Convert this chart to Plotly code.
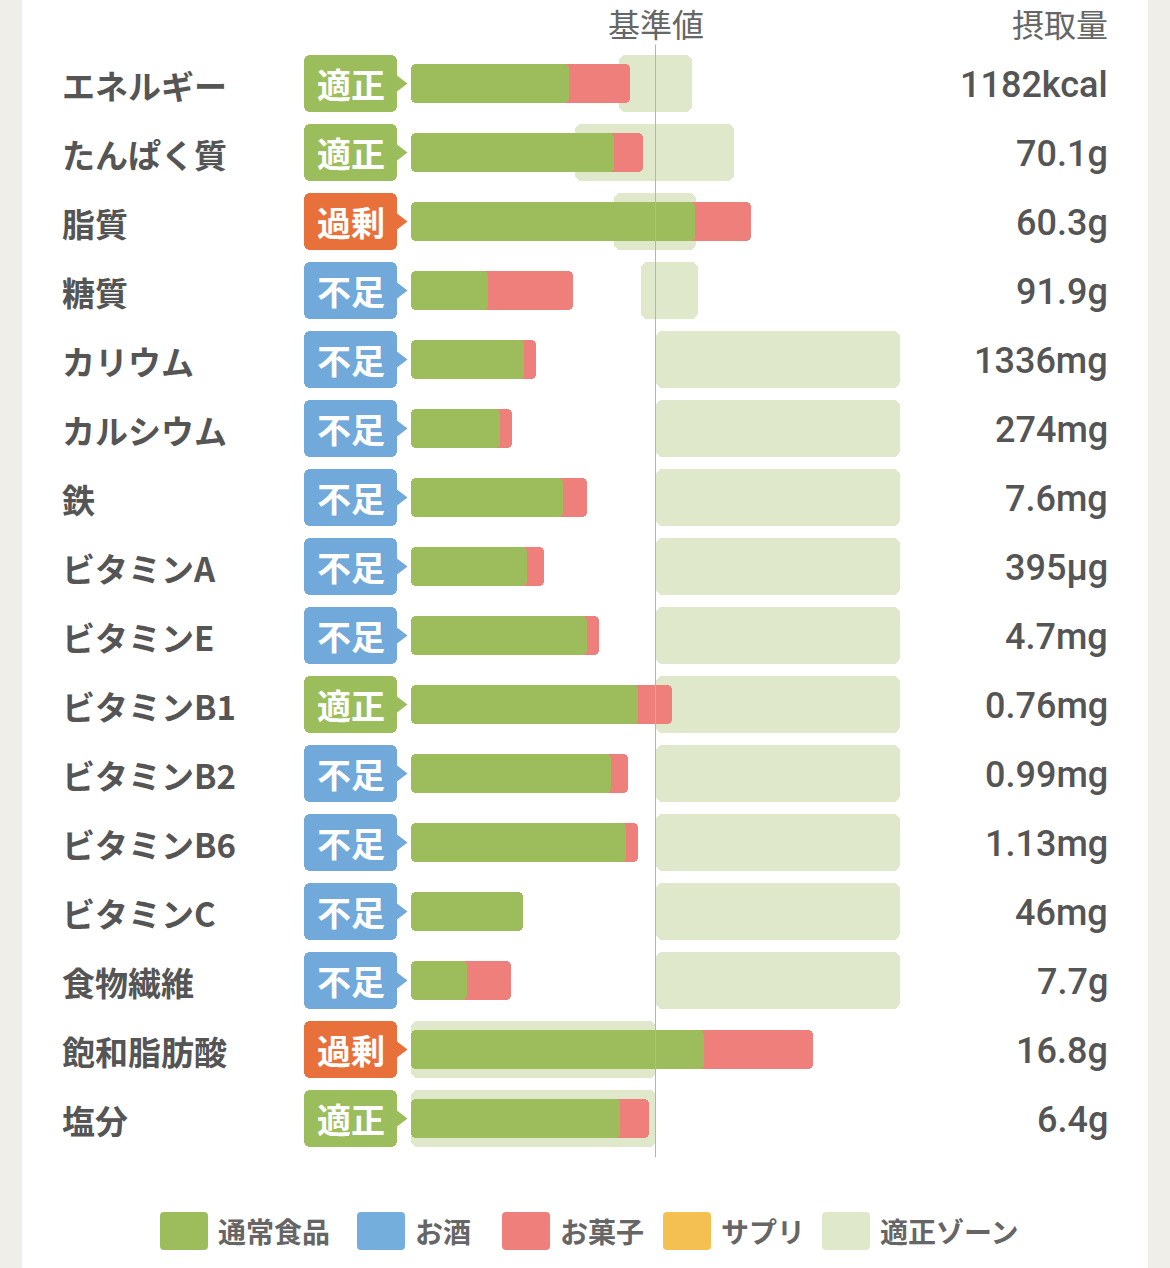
import plotly.graph_objects as go

# nutrient rows, top to bottom
nutrients = ["エネルギー", "たんぱく質", "脂質", "糖質", "カリウム", "カルシウム", "鉄",
             "ビタミンA", "ビタミンE", "ビタミンB1", "ビタミンB2", "ビタミンB6",
             "ビタミンC", "食物繊維", "飽和脂肪酸", "塩分"]
status = ["適正", "適正", "過剰", "不足", "不足", "不足", "不足",
          "不足", "不足", "適正", "不足", "不足",
          "不足", "不足", "過剰", "適正"]
intake = ["1182kcal", "70.1g", "60.3g", "91.9g", "1336mg", "274mg", "7.6mg",
          "395μg", "4.7mg", "0.76mg", "0.99mg", "1.13mg",
          "46mg", "7.7g", "16.8g", "6.4g"]

# intake by source, % of the reference value (基準値 = 100)
food = [64.5, 83.2, 116.1, 31.5, 46.1, 36.6, 62.2,
        47.5, 71.9, 92.9, 81.7, 87.9,
        45.8, 23.0, 119.9, 85.6]
alcohol = [0, 0, 0, 0, 0, 0, 0, 0, 0, 0, 0, 0, 0, 0, 0, 0]
snack = [25.1, 11.8, 22.8, 34.9, 5.1, 4.9, 9.8,
         6.8, 5.0, 13.8, 7.1, 5.0,
         0.0, 17.9, 44.5, 11.8]
supplement = [0, 0, 0, 0, 0, 0, 0, 0, 0, 0, 0, 0, 0, 0, 0, 0]

# appropriate zone (適正ゾーン), % of reference
zone_lo = [85, 67, 83, 94, 100, 100, 100, 100, 100, 100, 100, 100, 100, 100, 0, 0]
zone_hi = [115, 132, 116.5, 117.5, 200, 200, 200, 200, 200, 200, 200, 200, 200, 200, 100, 100]

legend_names = ["通常食品", "お酒", "お菓子", "サプリ", "適正ゾーン"]

GREEN = "#9dbd5d"
BLUE = "#74aedc"
RED = "#ee7f7b"
YELLOW = "#f4c052"
ZONE = "#dfe8cb"
status_colors = {"適正": "#9cbd5b", "過剰": "#e8703a", "不足": "#70a9da"}
legend_colors = [GREEN, BLUE, RED, YELLOW, ZONE]

W, H = 1170, 1268
TOP, BOT = 49, 1153
PH = BOT - TOP


def px(x):
    return x / W


def py(y):
    return (BOT - y) / PH


def round_rect(x0, y0, x1, y1, r):
    # rounded rectangle in pixel coords -> paper path
    pts = [
        f"M{px(x0 + r)},{py(y0)}", f"L{px(x1 - r)},{py(y0)}",
        f"Q{px(x1)},{py(y0)} {px(x1)},{py(y0 + r)}", f"L{px(x1)},{py(y1 - r)}",
        f"Q{px(x1)},{py(y1)} {px(x1 - r)},{py(y1)}", f"L{px(x0 + r)},{py(y1)}",
        f"Q{px(x0)},{py(y1)} {px(x0)},{py(y1 - r)}", f"L{px(x0)},{py(y0 + r)}",
        f"Q{px(x0)},{py(y0)} {px(x0 + r)},{py(y0)}", "Z",
    ]
    return " ".join(pts)


fig = go.Figure()


def rounded_bar(lo, hi, color, width, radius, xaxis="x"):
    fig.add_trace(go.Bar(
        y=nutrients, x=[b - a for a, b in zip(lo, hi)], base=lo,
        orientation="h", width=width, xaxis=xaxis,
        marker=dict(color=color, cornerradius=radius, line_width=0),
        hoverinfo="skip", showlegend=False,
    ))


# zones behind everything
rounded_bar(zone_lo, zone_hi, ZONE, 0.83, 7)

# stacked intake: draw cumulative totals from the outermost layer inward
layers = [(food, GREEN), (alcohol, BLUE), (snack, RED), (supplement, YELLOW)]
cums = []
run = [0] * len(nutrients)
for vals, col in layers:
    run = [a + b for a, b in zip(run, vals)]
    cums.append((list(run), col))
zeros = [0] * len(nutrients)
for cum, col in reversed(cums):
    rounded_bar(zeros, cum, col, 0.565, 5)

# status badges on their own little axis
ones = [1] * len(nutrients)
badge_cols = [status_colors[s] for s in status]
rounded_bar(zeros, ones, badge_cols, 0.83, 6, xaxis="x2")
fig.add_trace(go.Scatter(
    y=nutrients, x=ones, xaxis="x2", mode="markers", cliponaxis=False,
    marker=dict(symbol="triangle-right", size=21, color=badge_cols, line_width=0),
    hoverinfo="skip", showlegend=False,
))

annotations = []
for name, val, st in zip(nutrients, intake, status):
    annotations.append(dict(
        x=px(60), y=name, xref="paper", yref="y", text=name, showarrow=False,
        xanchor="left", yanchor="middle", yshift=-1,
        font=dict(family="Noto Sans CJK JP", size=33, color="#555555", weight="bold"),
    ))
    annotations.append(dict(
        x=px(1110), y=name, xref="paper", yref="y", text=val, showarrow=False,
        xanchor="right", yanchor="middle", yshift=-1,
        font=dict(family="Roboto", size=36, color="#555555", weight=500),
    ))
    annotations.append(dict(
        x=0.5, y=name, xref="x2", yref="y", text=st, showarrow=False,
        xanchor="center", yanchor="middle", yshift=0,
        font=dict(family="Noto Sans CJK JP", size=34, color="white", weight="bold"),
    ))
for txt, x, anchor in [("基準値", 656, "center"), ("摂取量", 1110, "right")]:
    annotations.append(dict(
        x=px(x), y=py(23.5), xref="paper", yref="paper", text=txt, showarrow=False,
        xanchor=anchor, yanchor="middle",
        font=dict(family="Noto Sans CJK JP", size=32, color="#666666"),
    ))

shapes = [
    # page background card
    dict(type="rect", xref="paper", yref="paper", x0=px(22), x1=px(1148),
         y0=py(H + 5), y1=py(-5), fillcolor="white", line_width=0, layer="below"),
    # reference line
    dict(type="line", xref="x", yref="paper", x0=100, x1=100, y0=-0.004, y1=1.004,
         line=dict(color="#b4b4b4", width=1), layer="above"),
]

# legend row
sw_x = [160, 357, 502, 663, 822]
for name, col, x in zip(legend_names, legend_colors, sw_x):
    shapes.append(dict(type="path", xref="paper", yref="paper",
                       path=round_rect(x, 1212, x + 48, 1250, 4),
                       fillcolor=col, line_width=0))
    annotations.append(dict(
        x=px(x + 56), y=py(1231), xref="paper", yref="paper", text=name,
        showarrow=False, xanchor="left", yanchor="middle",
        font=dict(family="Noto Sans CJK JP", size=28, color="#666666", weight="bold"),
    ))

fig.update_layout(
    width=W, height=H,
    margin=dict(l=0, r=0, t=TOP, b=H - BOT, pad=0),
    paper_bgcolor="#efeee9",
    plot_bgcolor="rgba(0,0,0,0)",
    barmode="overlay",
    bargap=0,
    showlegend=False,
    xaxis=dict(domain=[px(411), px(900)], range=[0, 200], visible=False, fixedrange=True),
    xaxis2=dict(domain=[px(304), px(397)], range=[0, 1], visible=False, anchor="y", fixedrange=True),
    yaxis=dict(range=[len(nutrients) - 0.5, -0.5], visible=False, fixedrange=True,
               categoryorder="array", categoryarray=nutrients),
    annotations=annotations,
    shapes=shapes,
)

fig.write_html("out.html", config={"displayModeBar": False},
               post_script="document.body.style.margin='0';")
